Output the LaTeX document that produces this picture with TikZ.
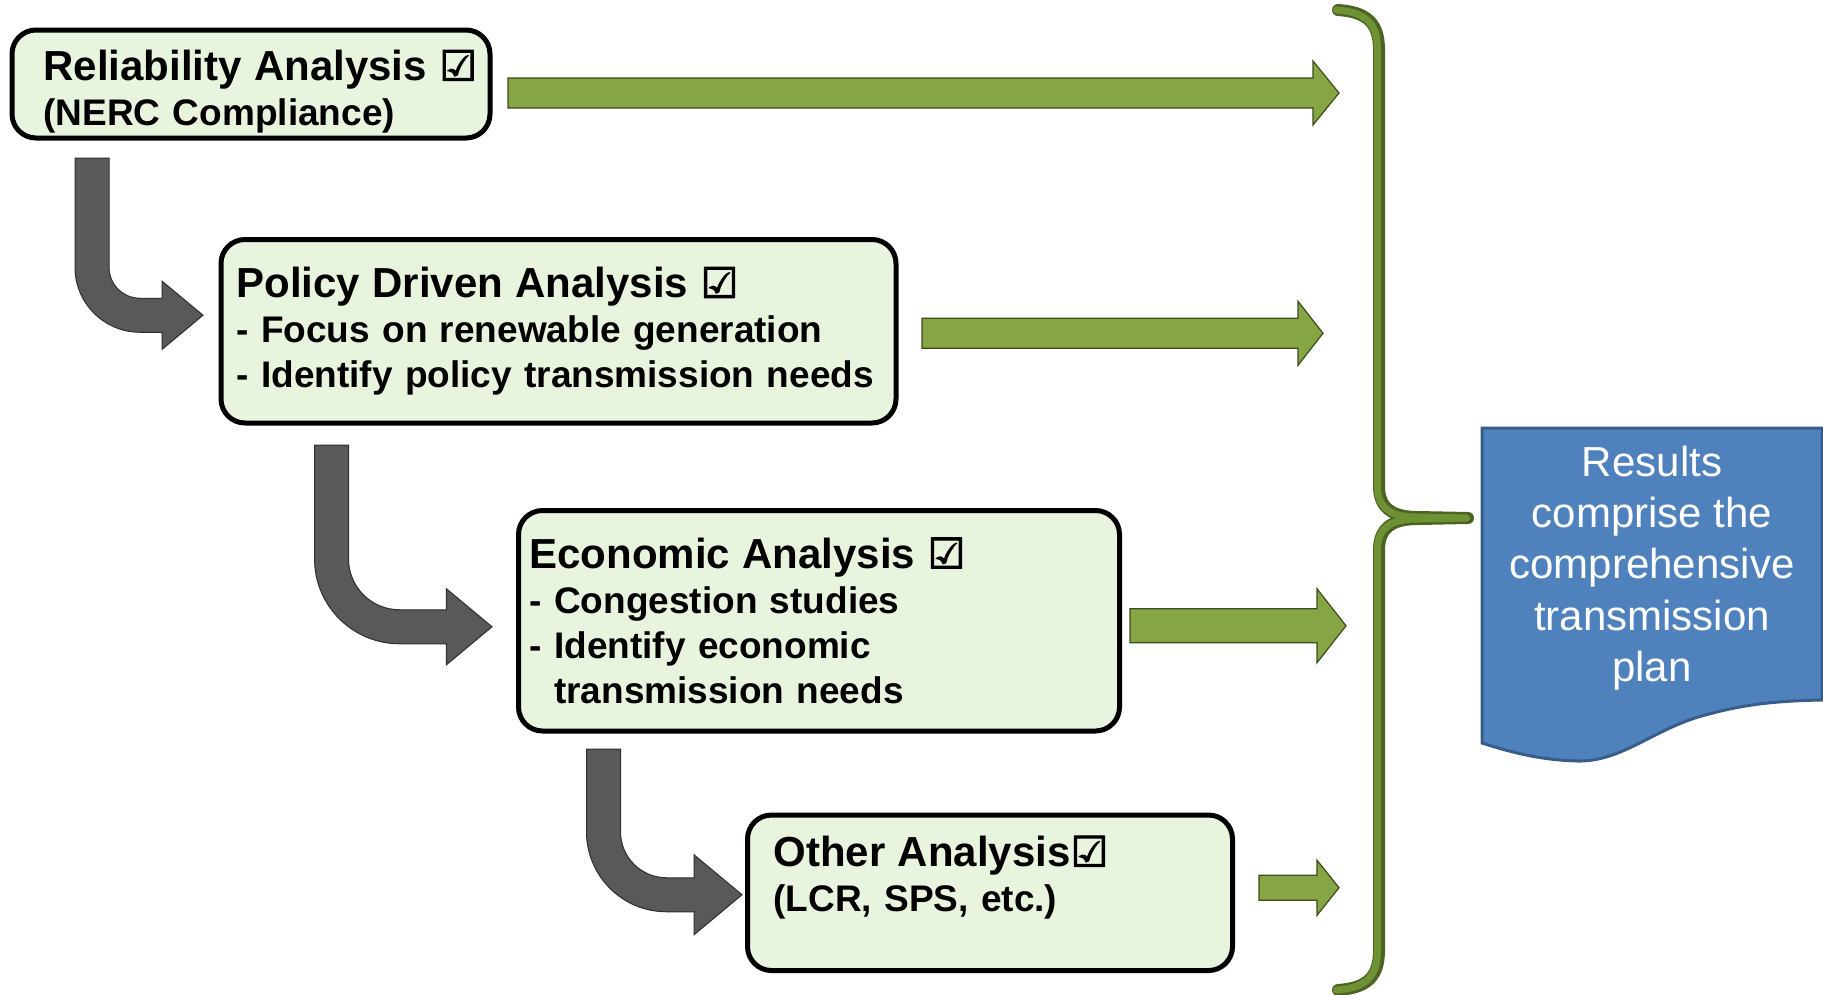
\documentclass[tikz,border=0pt]{standalone}
\usepackage{fontspec}
\setmainfont{Liberation Sans}
\newfontfamily\symfont[FakeBold=2.5]{DejaVu Sans}
\usetikzlibrary{calc,positioning}
\definecolor{BoxFill}{HTML}{E9F4DE}
\definecolor{LeafGreen}{HTML}{86A544}
\definecolor{LeafEdge}{HTML}{3C4A1C}
\definecolor{StemGray}{HTML}{595959}
\definecolor{StemEdge}{HTML}{2E2E2E}
\definecolor{BraceGreen}{HTML}{6E9233}
\definecolor{BraceDark}{HTML}{4B6421}
\definecolor{PlanBlue}{HTML}{4F81BD}
\definecolor{PlanEdge}{HTML}{385D8A}

\newcommand{\chk}{{\symfont ☑}}
\newcommand{\ttl}[1]{{\fontsize{42}{45}\selectfont\mbox{#1}}}
% block arrow: start, tip, half shaft, half head, head length
\newcommand{\leafarrow}[5]{%
  \path[leaf] let \p1=#1, \p2=#2 in
    (\x1,{\y1+#3}) -- ({\x2-#5},{\y1+#3}) -- ({\x2-#5},{\y1+#4}) -- (\x2,\y1)
    -- ({\x2-#5},{\y1-#4}) -- ({\x2-#5},{\y1-#3}) -- (\x1,{\y1-#3}) -- cycle;}
% bent arrow: stem top, tip, outer radius, half head
\newcommand{\bentarrow}[4]{%
  \path[stem] let \p1=#1, \p2=#2 in
    ({\x1-17pt},\y1) -- ({\x1+17pt},\y1) -- ({\x1+17pt},{\y2-17pt+#3})
    arc[start angle=180,end angle=270,radius={#3-34pt}]
    -- ({\x2-1.2*#4},{\y2+17pt}) -- ({\x2-1.2*#4},{\y2+#4}) -- (\x2,\y2)
    -- ({\x2-1.2*#4},{\y2-#4}) -- ({\x2-1.2*#4},{\y2-17pt})
    -- ({\x1-17pt+#3},{\y2-17pt})
    arc[start angle=270,end angle=180,radius=#3] -- cycle;}

\begin{document}
\begin{tikzpicture}[x=1pt,y=-1pt,
        box/.style={draw=black,line width=5pt,fill=BoxFill,rounded corners=24pt,
                    anchor=north west,outer sep=0pt,inner ysep=0pt,align=left,
                    font=\bfseries\fontsize{37}{45}\selectfont},
        leaf/.style={fill=LeafGreen,draw=LeafEdge,line width=1.2pt},
        stem/.style={fill=StemGray,draw=StemEdge,line width=1pt},
        brace/.style={line cap=round,line join=round}]
      \useasboundingbox (0,0) rectangle (1823,994);
      \node[box,minimum width=478pt,minimum height=108pt,inner xsep=31.5pt,
            text width=415pt,text height=46pt] (rel) at (12,30)
        {\ttl{Reliability Analysis \chk}\\(NERC Compliance)};
      \node[box,minimum width=675pt,minimum height=183.5pt,inner xsep=15.5pt,
            text width=644pt] (pol) at (221,239.5)
        {\ttl{Policy Driven Analysis \chk}\\- Focus on renewable generation\\- Identify policy transmission needs};
      \node[box,minimum width=601pt,minimum height=220.5pt,inner xsep=11pt,
            text width=579pt] (eco) at (518.5,510.5)
        {\ttl{Economic Analysis \chk}\\- Congestion studies\\- Identify economic\\\phantom{- }transmission needs};
      \node[box,minimum width=485pt,minimum height=155.5pt,inner xsep=26pt,
            text width=433pt,text depth=83pt] (oth) at (747.5,815)
        {\ttl{Other Analysis\chk}\\(LCR, SPS, etc.)};

      \bentarrow{($(rel.south west)+(80,20)$)}{($(pol.west)+(-18,-16)$)}{65pt}{34pt}
      \bentarrow{($(pol.south west)+(110.5,22)$)}{($(eco.west)+(-26.5,6)$)}{85pt}{38pt}
      \bentarrow{($(eco.south west)+(85,18)$)}{($(oth.west)+(-5.5,2)$)}{80pt}{40pt}

      \coordinate (e1) at (1339,93);
      \coordinate (e2) at (1323,333);
      \coordinate (e3) at (1346,626);
      \coordinate (e4) at (1339,888);
      \leafarrow{($(rel.east)+(18,9)$)}{(e1)}{15pt}{32pt}{26pt}
      \leafarrow{($(pol.east)+(26,2)$)}{(e2)}{15pt}{32pt}{25pt}
      \leafarrow{($(eco.east)+(10.5,5)$)}{(e3)}{17pt}{37pt}{29pt}
      \leafarrow{($(oth.east)+(26.5,-5)$)}{(e4)}{12.5pt}{27.5pt}{22pt}

      % brace
      \foreach \c/\w/\s in {BraceDark/12pt/0pt,BraceGreen/7pt/-1.5pt}{
        \draw[brace,\c,line width=\w,xshift=\s]
          (1338,10) .. controls (1368,12) and (1379,24) .. (1379,50) -- (1379,486)
          .. controls (1379,508) and (1392,517) .. (1418,517) -- (1468,518)
          (1468,518) -- (1418,519) .. controls (1392,519) and (1379,528) .. (1379,550)
          -- (1379,950) .. controls (1379,976) and (1368,988) .. (1338,990);
      }

      \path[fill=PlanBlue,draw=PlanEdge,line width=3pt] (1482,428) -- (1822,428) -- (1822,700)
        .. controls (1760,701) and (1730,708) .. (1698,717)
        .. controls (1650,732) and (1620,762) .. (1577,761)
        .. controls (1540,760) and (1510,752) .. (1482,743) -- cycle;
      \node[align=center,text=white,font=\fontsize{42}{51.25}\selectfont] (res) at (1652,568)
        {Results\\comprise the\\comprehensive\\transmission\\plan};
    \end{tikzpicture}
\end{document}
